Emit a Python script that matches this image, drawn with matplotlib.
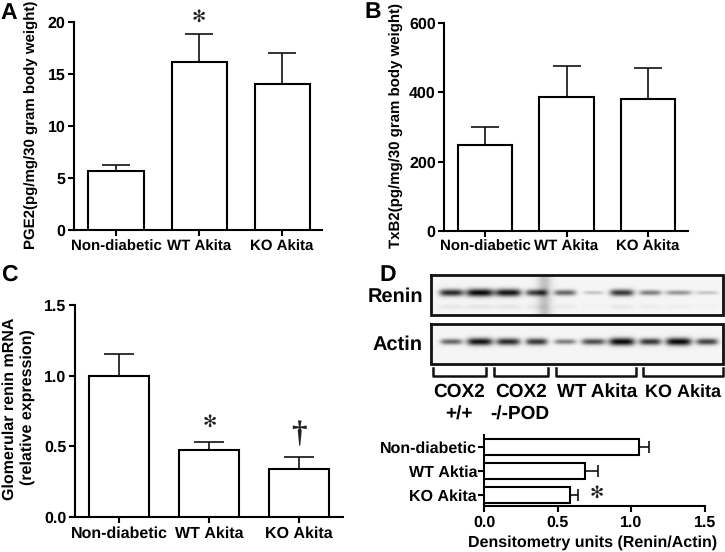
"""
Four panel figure: PGE2, TxB2, glomerular renin mRNA, renin/actin blot with densitometry.
"""
import matplotlib
matplotlib.use('Agg')
import matplotlib.pyplot as plt
import numpy as np

W, H = 725, 552
FS = 11.3
LW = 1.5

groups = ['Non-diabetic', 'WT Akita', 'KO Akita']
groups_d = ['Non-diabetic', 'WT Aktia', 'KO Akita']

pge2 = [5.7, 16.1, 14.0]
pge2_err = [0.5, 2.7, 3.0]
pge2_ticks = [0, 5, 10, 15, 20]

txb2 = [247, 387, 381]
txb2_err = [53, 90, 91]
txb2_ticks = [0, 200, 400, 600]

renin_mrna = [1.0, 0.475, 0.34]
renin_mrna_err = [0.15, 0.055, 0.085]
renin_mrna_ticks = ['0.0', '0.5', '1.0', '1.5']

densito = [1.055, 0.685, 0.585]
densito_err = [0.067, 0.09, 0.055]
densito_ticks = ['0.0', '0.5', '1.0', '1.5']

# band strength per lane
renin_bands = [0.85, 1.0, 0.95, 0.75, 0.6, 0.2, 0.8, 0.5, 0.4, 0.2]
renin_widths = [12, 14, 13, 11, 11, 10, 12, 11, 13, 11]
actin_bands = [0.6, 0.95, 0.85, 0.8, 0.5, 0.7, 1.0, 0.8, 1.0, 0.75]
actin_widths = [11, 13, 12, 11, 11, 12, 13, 11, 13, 11]

plt.rcParams['font.family'] = ['Liberation Sans', 'DejaVu Sans']
plt.rcParams['font.weight'] = 'bold'
plt.rcParams['axes.linewidth'] = LW
# hinted advances snap to whole pixels and make text width jump with font size
plt.rcParams['text.hinting'] = 'none'
plt.rcParams['text.hinting_factor'] = 1


def px_axes(fig, left, top, right, bottom):
    return fig.add_axes([left / W, 1 - bottom / H, (right - left) / W, (bottom - top) / H])


def bar_panel(fig, box, xlim, values, errs, ticks, ylim, width, cap, xfs=FS):
    ax = px_axes(fig, *box)
    x = np.arange(len(values))
    ax.bar(x, values, width=width, facecolor='white', edgecolor='black', linewidth=LW, zorder=3)
    ax.errorbar(x, values, yerr=[np.zeros(len(errs)), errs], fmt='none', ecolor='#111111',
                elinewidth=1.2, capsize=cap, capthick=1.2, zorder=2)
    ax.set_xlim(*xlim)
    ax.set_ylim(*ylim)
    ax.set_xticks(x)
    ax.set_xticklabels(groups, fontsize=xfs, fontweight='bold')
    ax.set_yticks([float(t) for t in ticks])
    ax.set_yticklabels(ticks, fontsize=FS + 0.4, fontweight='bold')
    ax.tick_params(length=4, width=LW, pad=2)
    ax.tick_params(axis='x', pad=3)
    ax.spines[['top', 'right']].set_visible(False)
    return ax


def blot(ov, box, bands, widths, smudge=False):
    left, top, right, bottom = box
    xx, yy = np.meshgrid(np.arange(left, right), np.arange(top, bottom))
    img = np.full(xx.shape, 0.96)
    cy = top + (bottom - top) * 0.43
    for i, (s, w) in enumerate(zip(bands, widths)):
        cx = left + 20 + i * 28.4
        dark = s * np.exp(-((xx - cx) / w) ** 4 - ((yy - cy) / (1.5 + 2.4 * s)) ** 2)
        img -= 0.92 * dark
        if smudge:
            # faint second band under the renin lanes
            img -= 0.07 * s * np.exp(-((xx - cx) / w) ** 4 - ((yy - (cy + 14)) / 2.5) ** 2)
    if smudge:
        img -= 0.2 * np.exp(-((xx - (left + 113)) / 7) ** 2)
    ov.imshow(np.clip(img, 0, 1), cmap='gray', vmin=0, vmax=1, extent=(left, right, bottom, top),
              aspect='auto', interpolation='bilinear', zorder=1)
    ov.plot([left, right, right, left, left], [top, top, bottom, bottom, top], color='#111111',
            lw=2.0, zorder=2, solid_joinstyle='miter')


fig = plt.figure(figsize=(W / 100, H / 100), dpi=100, facecolor='white')

bar_panel(fig, (74, 21.7, 322, 230), (-0.506, 2.48), pge2, pge2_err, pge2_ticks, (0, 20), 0.663, 10,
          xfs=11.0)
bar_panel(fig, (444, 23.3, 688, 230.7), (-0.503, 2.49), txb2, txb2_err, txb2_ticks, (0, 600), 0.67, 10,
          xfs=10.7)
bar_panel(fig, (74.5, 305, 343, 517), (-0.494, 2.49), renin_mrna, renin_mrna_err, renin_mrna_ticks,
          (0, 1.5), 0.667, 11, xfs=11.5)

# panel D bars run horizontally
axd = px_axes(fig, 484, 435, 705, 506)
yd = np.arange(len(densito))
axd.barh(yd, densito, height=0.67, facecolor='white', edgecolor='black', linewidth=LW, zorder=3)
axd.errorbar(densito, yd, xerr=[np.zeros(3), densito_err], fmt='none', ecolor='#111111',
             elinewidth=1.2, capsize=4, capthick=1.2, zorder=2)
axd.set_ylim(2.46, -0.5)
axd.set_xlim(0, 1.5)
axd.set_yticks(yd)
axd.set_yticklabels(groups_d, fontsize=11.6, fontweight='bold')
axd.set_xticks([float(t) for t in densito_ticks])
axd.set_xticklabels(densito_ticks, fontsize=FS + 0.4, fontweight='bold')
axd.tick_params(length=4, width=LW, pad=1)
axd.tick_params(axis='x', pad=3)
axd.spines[['top', 'right']].set_visible(False)

# overlay in picture pixels for labels and blots
ov = fig.add_axes([0, 0, 1, 1], zorder=5)
ov.patch.set_alpha(0)
ov.axis('off')

blot(ov, (431, 275, 723, 315), renin_bands, renin_widths, smudge=True)
blot(ov, (431, 324, 723, 364), actin_bands, actin_widths)
ov.set_xlim(0, W)
ov.set_ylim(H, 0)


def label(x, y, s, size=FS, rot=0, ha='center', **kw):
    ov.text(x, y, s, fontsize=size, rotation=rot, ha=ha, va='center', fontweight='bold', **kw)


for x, y, s in [(9, 13, 'A'), (373, 12, 'B'), (9, 275, 'C'), (388, 275, 'D')]:
    label(x, y, s, size=16.5)

label(32, 125, 'PGE2(pg/mg/30 gram body weight)', size=11.0, rot=90)
label(397, 125, 'TxB2(pg/mg/30 gram body weight)', size=10.7, rot=90)
label(10, 409, 'Glomerular renin mRNA', size=11.6, rot=90)
label(28, 407, '(relative expression)', size=11.4, rot=90)
label(593, 543, 'Densitometry units (Renin/Actin)', size=11.25)

label(423, 297, 'Renin', size=14.5, ha='right')
label(423, 345, 'Actin', size=14.5, ha='right')

for x0, x1 in [(433, 486), (494, 548), (556, 636), (643, 723)]:
    ov.plot([x0, x0, x1, x1], [368, 376, 376, 368], color='#111111', lw=1.8, zorder=3)

for x, s, size in [(459, 'COX2', 13.7), (521, 'COX2', 13.7), (597, 'WT Akita', 13.6), (683, 'KO Akita', 13.3)]:
    label(x, 392, s, size=size)
label(459, 415, '+/+', size=14)
label(520, 415, '-/-POD', size=13.7)

for x, y in [(199, 17), (210, 422), (597, 493)]:
    ov.text(x, y, '\u273b', fontsize=12.5, ha='center', va='center', family='DejaVu Sans',
            fontweight='normal', color='#222222')
ov.text(299, 435, '\u2020', fontsize=22, ha='center', va='center', family='Liberation Serif',
        fontweight='bold', color='#222222')

fig.savefig('out.png', dpi=100)
